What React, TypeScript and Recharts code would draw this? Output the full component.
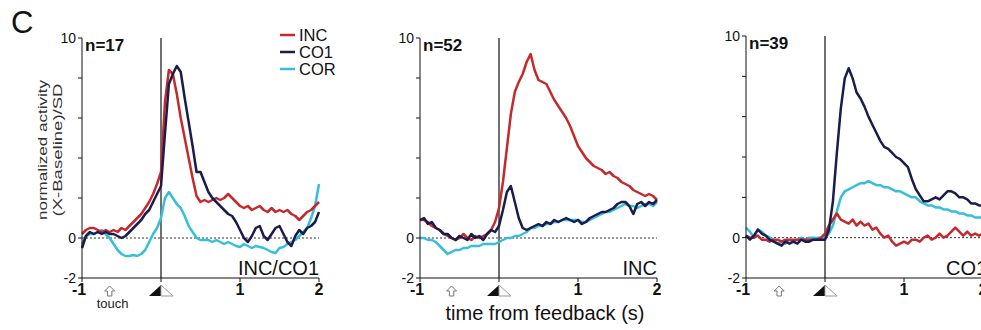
import { LineChart, Line, XAxis, YAxis, ReferenceLine, ReferenceDot } from 'recharts';

// time axis (s from feedback), 0.05 s bins
const TIME = [
  -1.0, -0.95, -0.9, -0.85, -0.8, -0.75, -0.7, -0.65, -0.6, -0.55,
  -0.5, -0.45, -0.4, -0.35, -0.3, -0.25, -0.2, -0.15, -0.1, -0.05,
  0.0, 0.05, 0.1, 0.15, 0.2, 0.25, 0.3, 0.35, 0.4, 0.45,
  0.5, 0.55, 0.6, 0.65, 0.7, 0.75, 0.8, 0.85, 0.9, 0.95,
  1.0, 1.05, 1.1, 1.15, 1.2, 1.25, 1.3, 1.35, 1.4, 1.45,
  1.5, 1.55, 1.6, 1.65, 1.7, 1.75, 1.8, 1.85, 1.9, 1.95,
  2.0,
];

// panel 1: INC/CO1 cells (n=17)
const P1_INC = [
  0.2, 0.4, 0.5, 0.5, 0.4, 0.3, 0.4, 0.3, 0.4, 0.3,
  0.5, 0.4, 0.6, 0.8, 1.0, 1.2, 1.5, 1.8, 2.2, 2.7,
  3.3, 6.8, 8.4, 8.2, 7.2, 6.0, 5.0, 4.0, 3.0, 2.1,
  1.8, 1.9, 1.8, 1.9, 2.0, 1.9, 2.0, 2.2, 2.0, 1.8,
  1.6, 1.5, 1.6, 1.4, 1.5, 1.6, 1.4, 1.3, 1.5, 1.3,
  1.4, 1.3, 1.4, 1.2, 1.1, 0.9, 1.1, 1.3, 1.4, 1.6,
  1.8,
];
const P1_CO1 = [
  -0.5, 0.1, 0.3, 0.2, 0.3, 0.2, 0.3, 0.2, 0.2, 0.1,
  0.0, 0.1, 0.3, 0.5, 0.7, 0.9, 1.2, 1.4, 1.8, 2.2,
  2.6, 5.2, 7.7, 8.2, 8.6, 8.3, 7.0, 5.8, 4.6, 3.3,
  3.3, 2.8, 2.3, 2.0, 1.8, 1.6, 1.4, 1.2, 1.1, 0.8,
  0.4, 0.0, -0.2, 0.1, 0.5, 0.6, 0.1, -0.1, 0.2, 0.5,
  0.6, 0.2, -0.2, -0.4, 0.1, 0.4, 0.2, 0.5, 0.6, 0.8,
  1.3,
];
const P1_COR = [
  -0.3, 0.1, 0.2, 0.2, 0.3, 0.4, 0.2, 0.0, -0.3, -0.6,
  -0.8, -0.9, -0.9, -0.85, -0.9, -0.8, -0.6, -0.2, 0.2, 0.5,
  1.0, 2.0, 2.3, 2.0, 1.7, 1.5, 1.1, 0.6, 0.3, 0.0,
  -0.1, -0.1, -0.1, -0.2, -0.1, -0.2, -0.3, -0.2, -0.3, -0.4,
  -0.45, -0.3, -0.4, -0.5, -0.4, -0.45, -0.5, -0.6, -0.7, -0.75,
  -0.5, -0.45, -0.3, -0.2, -0.1, 0.1, 0.3, 0.5, 1.0, 1.6,
  2.7,
];

// panel 2: INC cells (n=52)
const P2_INC = [
  0.9, 0.9, 0.8, 0.6, 0.5, 0.4, 0.2, 0.1, 0.0, -0.1,
  0.0, 0.2, 0.0, -0.1, 0.1, 0.0, 0.1, 0.2, 0.4, 0.8,
  1.5, 2.8, 4.5, 6.2, 7.3, 7.8, 8.2, 8.8, 9.2, 8.4,
  7.9, 7.8, 7.7, 7.3, 6.9, 6.6, 6.3, 6.0, 5.6, 5.1,
  4.6, 4.3, 4.0, 3.8, 3.6, 3.5, 3.4, 3.2, 3.3, 3.1,
  3.0, 2.8, 2.7, 2.6, 2.4, 2.3, 2.2, 2.1, 2.2, 2.1,
  1.9,
];
const P2_CO1 = [
  0.9, 1.0, 0.7, 0.8, 0.5, 0.4, 0.2, 0.2, 0.0, -0.1,
  0.1, 0.0, -0.1, 0.2, 0.0, 0.1, -0.1, 0.2, 0.4, 0.3,
  0.6, 1.4, 2.3, 2.6, 1.8, 1.0, 0.5, 0.4, 0.5, 0.6,
  0.7, 0.6, 0.8, 0.7, 0.9, 0.8, 0.9, 1.0, 0.9, 0.8,
  0.9, 0.7, 0.8, 1.0, 1.1, 1.2, 1.3, 1.3, 1.4, 1.5,
  1.7, 1.8, 1.8, 1.6, 1.2, 1.7, 1.8, 1.6, 1.8, 1.7,
  1.9,
];
const P2_COR = [
  0.0, 0.0, -0.1, -0.1, -0.2, -0.4, -0.6, -0.8, -0.7, -0.6,
  -0.6, -0.5, -0.5, -0.4, -0.4, -0.4, -0.3, -0.3, -0.3, -0.3,
  -0.2, -0.1, 0.0, 0.0, 0.1, 0.1, 0.2, 0.3, 0.5, 0.5,
  0.6, 0.6, 0.7, 0.7, 0.8, 0.8, 0.9, 0.9, 0.9, 0.9,
  0.9, 0.8, 0.8, 0.9, 1.0, 1.1, 1.2, 1.3, 1.3, 1.4,
  1.5, 1.6, 1.7, 1.6, 1.6, 1.5, 1.6, 1.7, 1.7, 1.6,
  1.8,
];

// panel 3: CO1 cells (n=39)
const P3_INC = [
  0.1, 0.0, 0.0, 0.1, -0.1, -0.1, -0.2, -0.1, -0.1, -0.2,
  -0.1, -0.1, -0.1, -0.1, -0.1, -0.1, -0.1, -0.1, -0.1, 0.0,
  0.2, 0.6, 0.9, 1.2, 0.9, 0.8, 0.7, 0.9, 0.6, 0.8,
  0.6, 0.7, 0.4, 0.5, 0.2, 0.0, 0.1, -0.2, -0.4, -0.3,
  -0.2, -0.3, -0.1, -0.1, -0.2, 0.0, 0.1, -0.1, 0.0, 0.2,
  0.0, 0.1, 0.3, 0.5, 0.3, 0.1, 0.3, 0.1, 0.2, 0.1,
  0.2,
];
const P3_CO1 = [
  0.1, -0.1, 0.1, 0.4, 0.2, 0.1, -0.1, -0.2, -0.3, -0.4,
  -0.2, -0.3, -0.2, -0.3, -0.1, -0.2, -0.2, -0.1, -0.1, -0.1,
  -0.1, 0.4, 1.8, 4.2, 6.4, 7.9, 8.4, 7.9, 7.2, 6.9,
  6.5, 6.0, 5.6, 5.2, 4.8, 4.5, 4.4, 4.2, 4.0, 3.9,
  3.7, 3.5, 2.9, 2.4, 2.1, 1.8, 1.8, 1.9, 2.0, 1.9,
  2.1, 2.3, 2.3, 2.2, 2.0, 2.0, 1.9, 1.7, 1.7, 1.6,
  1.6,
];
const P3_COR = [
  0.5, 0.3, 0.0, 0.4, 0.3, 0.1, 0.0, -0.1, -0.3, -0.2,
  -0.3, -0.1, -0.2, -0.1, 0.0, -0.1, 0.0, 0.0, 0.0, 0.0,
  0.0, 0.2, 0.6, 1.3, 2.0, 2.3, 2.4, 2.5, 2.6, 2.7,
  2.7, 2.8, 2.7, 2.6, 2.6, 2.5, 2.5, 2.4, 2.3, 2.3,
  2.2, 2.1, 2.0, 2.0, 1.8, 1.7, 1.6, 1.6, 1.5, 1.5,
  1.4, 1.4, 1.3, 1.3, 1.2, 1.2, 1.1, 1.1, 1.0, 1.0,
  1.0,
];

const SERIES = [
  { key: 'cor', name: 'COR', color: '#35bfd9' },
  { key: 'inc', name: 'INC', color: '#c42a2c' },
  { key: 'co1', name: 'CO1', color: '#1b1b4d' },
];
const LEGEND_ORDER = ['inc', 'co1', 'cor'];

const X_TICKS = [-1, 0, 1, 2];
const Y_TICKS = [-2, 0, 2, 4, 6, 8, 10];
const Y_LABELED = [-2, 0, 10];

const rows = (inc: number[], co1: number[], cor: number[]) =>
  TIME.map((t, i) => ({ t, inc: inc[i], co1: co1[i], cor: cor[i] }));

const PANELS = [
  { n: 'n=17', title: 'INC/CO1', plotLeft: 82, top: 38, arrowAt: -0.65, touch: true, data: rows(P1_INC, P1_CO1, P1_COR) },
  { n: 'n=52', title: 'INC', plotLeft: 420, top: 38, arrowAt: -0.6, touch: false, data: rows(P2_INC, P2_CO1, P2_COR) },
  { n: 'n=39', title: 'CO1', plotLeft: 746, top: 36, arrowAt: -0.58, touch: false, data: rows(P3_INC, P3_CO1, P3_COR) },
];

const FONT = '"Liberation Sans", Arial, sans-serif';
const PLOT_W = 237;
const PLOT_BOTTOM = 278;
const CHART_H = 330;
const Y_AXIS_W = 30;

const XTick = (props: any) => {
  const { x, y, payload } = props;
  if (payload.value === 0) {
    return (
      <g>
        <path d={`M${x},${y + 1} L${x},${y + 12} L${x - 12},${y + 12} Z`} fill="#111" />
        <path d={`M${x},${y + 1} L${x},${y + 12} L${x + 12},${y + 12} Z`} fill="#fff" stroke="#999" strokeWidth={1} />
      </g>
    );
  }
  return (
    <text x={payload.value < 0 ? x - 3 : x} y={y} dy="0.71em" textAnchor="middle" fontSize={16} fontWeight="bold" fill="#111" fontFamily={FONT}>
      {payload.value}
    </text>
  );
};

const YTick = (props: any) => {
  const { x, y, payload } = props;
  if (!Y_LABELED.includes(payload.value)) return <g />;
  return (
    <text x={x} y={y} dy="0.355em" textAnchor="end" fontSize={14} fill="#111" fontFamily={FONT}>
      {payload.value}
    </text>
  );
};

const arrowShape = (touch: boolean) => (props: any) => {
  const { cx, cy } = props;
  const t = cy + 8;
  return (
    <g>
      <path
        d={`M${cx},${t} L${cx + 5},${t + 5} L${cx + 2.2},${t + 5} L${cx + 2.2},${t + 10} L${cx - 2.2},${t + 10} L${cx - 2.2},${t + 5} L${cx - 5},${t + 5} Z`}
        fill="#fff"
        stroke="#777"
        strokeWidth={1}
      />
      {touch && (
        <text x={cx + 3} y={cy + 30} textAnchor="middle" fontSize={13} fill="#222" fontFamily={FONT}>
          touch
        </text>
      )}
    </g>
  );
};

function Panel({ p }: { p: (typeof PANELS)[number] }) {
  const leftPad = 82;
  const width = leftPad + PLOT_W + 15;
  const xAxisH = 30;
  return (
    <div style={{ position: 'absolute', left: p.plotLeft - leftPad, top: 0 }}>
      <LineChart
        width={width}
        height={CHART_H}
        data={p.data}
        margin={{ top: p.top, right: 15, left: leftPad - Y_AXIS_W, bottom: CHART_H - PLOT_BOTTOM - xAxisH }}
      >
        <XAxis
          dataKey="t"
          type="number"
          domain={[-1, 2]}
          ticks={X_TICKS}
          height={xAxisH}
          tickSize={4}
          axisLine={{ stroke: '#111' }}
          tickLine={{ stroke: '#111' }}
          tick={XTick}
          interval={0}
        />
        <YAxis
          type="number"
          domain={[-2, 10]}
          ticks={Y_TICKS}
          width={Y_AXIS_W}
          tickSize={4}
          axisLine={{ stroke: '#111' }}
          tickLine={{ stroke: '#111' }}
          tick={YTick}
          interval={0}
        />
        <ReferenceLine y={0} stroke="#333" strokeDasharray="2 2" strokeWidth={1} />
        <ReferenceLine x={0} stroke="#111" strokeWidth={1.2} />
        {SERIES.map((s) => (
          <Line
            key={s.key}
            type="linear"
            dataKey={s.key}
            name={s.name}
            stroke={s.color}
            strokeWidth={2.5}
            strokeLinejoin="round"
            dot={false}
            isAnimationActive={false}
          />
        ))}
        <ReferenceDot x={p.arrowAt} y={-2} r={0} ifOverflow="visible" shape={arrowShape(p.touch)} />
      </LineChart>
    </div>
  );
}

export default function App() {
  return (
    <div style={{ position: 'absolute', left: 0, top: 0, width: 981, height: 330, overflow: 'hidden', background: '#fff' }}>
      {PANELS.map((p) => (
        <Panel key={p.n} p={p} />
      ))}
      <svg width={981} height={330} style={{ position: 'absolute', left: 0, top: 0, pointerEvents: 'none' }} fontFamily={FONT}>
        <text x={11} y={33} fontSize={31} fill="#111">C</text>
        <text
          x={42}
          y={150}
          transform="rotate(-90 42 150)"
          textAnchor="middle"
          dominantBaseline="central"
          fontSize={13}
          fill="#333"
          textLength={140}
          lengthAdjust="spacingAndGlyphs"
        >
          normalized activity
        </text>
        <text
          x={57}
          y={150}
          transform="rotate(-90 57 150)"
          textAnchor="middle"
          dominantBaseline="central"
          fontSize={13}
          fill="#333"
          textLength={133}
          lengthAdjust="spacingAndGlyphs"
        >
          (X-Baseline)/SD
        </text>
        {PANELS.map((p) => (
          <g key={p.n}>
            <text x={p.plotLeft + 3} y={p.top + 13} fontSize={17} fontWeight="bold" fill="#111">{p.n}</text>
            <text x={p.plotLeft + PLOT_W} y={275} textAnchor={p.plotLeft + PLOT_W > 981 ? 'start' : 'end'} dx={p.plotLeft + PLOT_W > 981 ? -37 : 0} fontSize={20} fill="#111">
              {p.title}
            </text>
          </g>
        ))}
        {LEGEND_ORDER.map((k, i) => {
          const s = SERIES.find((x) => x.key === k)!;
          const y = 35 + i * 17;
          return (
            <g key={k}>
              <line x1={280} x2={295} y1={y} y2={y} stroke={s.color} strokeWidth={2.5} />
              <text x={299} y={y + 6} fontSize={16.5} fill="#111">{s.name}</text>
            </g>
          );
        })}
        <text x={545} y={320} textAnchor="middle" fontSize={20} fill="#111">time from feedback (s)</text>
      </svg>
    </div>
  );
}
